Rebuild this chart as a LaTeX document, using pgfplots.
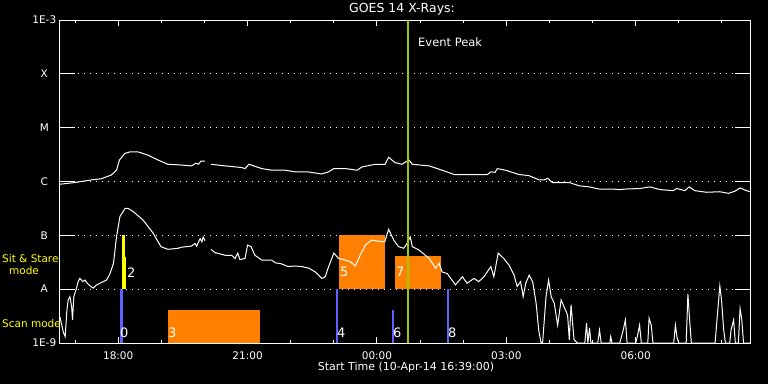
\documentclass[border=0pt]{standalone}
\usepackage{fontspec}
\setmainfont{DejaVu Sans}
\usepackage{pgfplots}
\pgfplotsset{compat=1.18}
\definecolor{scanblue}{RGB}{96,96,255}
\definecolor{ssorange}{RGB}{255,128,0}
\definecolor{ssyellow}{RGB}{255,255,0}
\definecolor{peakgreen}{RGB}{160,200,0}
\begin{document}
\begin{tikzpicture}[font=\fontsize{10.5}{12}\selectfont]
\fill[black] (-60pt,-41pt) rectangle (708pt,343pt);
\begin{axis}[
  at={(0pt,0pt)}, anchor=south west,
  scale only axis, width=690pt, height=323pt,
  xmin=16.65, xmax=32.65, ymin=-9, ymax=-3,
  clip=false,
  unbounded coords=jump,
  axis line style={white, line width=1pt},
  every tick/.style={white, line width=1pt},
  xtick={18,21,24,27,30},
  xticklabels={\mbox{18:00},\mbox{21:00},\mbox{00:00},\mbox{03:00},\mbox{06:00}},
  minor xtick={17,19,20,22,23,25,26,28,29,31,32},
  ytick={-9,-8,-7,-6,-5,-4,-3},
  yticklabels={\mbox{1E-9},\mbox{A},\mbox{B},\mbox{C},\mbox{M},\mbox{X},\mbox{1E-3}},
  xtick style={/pgfplots/major tick length=6pt, /pgfplots/minor tick length=3pt},
  ytick style={/pgfplots/major tick length=15pt},
  xticklabel style={white, yshift=-5pt},
  yticklabel style={white, text width=25pt, align=center, inner sep=0pt, xshift=-3pt},
  ymajorgrids,
  major grid style={white, line width=1pt, dash pattern=on 1pt off 5pt},
]
% Sit & Stare / raster boxes
\addplot[fill=ssorange, draw=none] coordinates {(19.15,-9) (21.29,-9) (21.29,-8.39) (19.15,-8.39)} -- cycle;
\addplot[fill=ssorange, draw=none] coordinates {(23.12,-8) (24.19,-8) (24.19,-7) (23.12,-7)} -- cycle;
\addplot[fill=ssorange, draw=none] coordinates {(24.42,-8) (25.48,-8) (25.48,-7.38) (24.42,-7.38)} -- cycle;
% scan mode bars
\addplot[scanblue, line width=2.7pt] coordinates {(18.07,-9) (18.07,-8)};
\addplot[scanblue, line width=2.7pt] coordinates {(23.07,-9) (23.07,-8)};
\addplot[scanblue, line width=2.7pt] coordinates {(24.37,-9) (24.37,-8.39)};
\addplot[scanblue, line width=2.7pt] coordinates {(25.65,-9) (25.65,-8)};
% sit and stare bars
\addplot[ssyellow, line width=2.7pt] coordinates {(18.12,-8) (18.12,-7)};
\addplot[ssyellow, line width=1.5pt] coordinates {(18.17,-8) (18.17,-7.40)};
% long channel
\addplot[white, line width=1pt] coordinates {
(16.65,-6.05) (16.99,-6.02) (17.38,-5.97) (17.60,-5.95) (17.84,-5.88) (17.96,-5.79) (18.03,-5.60) (18.15,-5.48) (18.27,-5.45) (18.46,-5.45) (18.69,-5.51) (18.92,-5.60) (19.15,-5.68) (19.39,-5.69) (19.70,-5.71) (19.80,-5.66) (19.86,-5.68) (19.92,-5.62) (20.01,-5.62) (20.08,nan) (20.15,-5.68) (20.48,-5.71) (20.86,-5.74) (20.94,-5.76) (21.03,-5.68) (21.33,-5.76) (21.56,-5.79) (21.87,-5.79) (22.10,-5.82) (22.38,-5.82) (22.72,-5.86) (22.88,-5.82) (23.00,-5.76) (23.27,-5.76) (23.54,-5.79) (23.65,-5.73) (23.96,-5.68) (24.19,-5.68) (24.27,-5.55) (24.42,-5.65) (24.58,-5.68) (24.74,-5.60) (24.82,-5.68) (25.21,-5.71) (25.51,-5.79) (25.79,-5.87) (26.13,-5.87) (26.56,-5.87) (26.64,-5.82) (26.74,-5.83) (26.79,-5.76) (26.98,-5.79) (27.29,-5.87) (27.52,-5.89) (27.76,-5.97) (27.88,-5.97) (27.96,-5.94) (28.07,-6.02) (28.46,-6.02) (28.69,-6.08) (28.92,-6.10) (29.15,-6.14) (29.47,-6.14) (29.62,-6.15) (29.77,-6.14) (30.10,-6.13) (30.33,-6.10) (30.56,-6.15) (30.87,-6.17) (30.95,-6.13) (31.14,-6.17) (31.24,-6.10) (31.37,-6.17) (31.64,-6.20) (31.95,-6.19) (32.15,-6.22) (32.30,-6.18) (32.42,-6.12) (32.57,-6.17) (32.65,-6.19)
};
% short channel
\addplot[white, line width=1pt] coordinates {
(16.65,-8.52) (16.73,-8.81) (16.77,-8.88) (16.81,-8.39) (16.84,-8.20) (16.88,-8.14) (16.92,-8.33) (16.94,-8.57) (16.97,-8.14) (17.02,-8.02) (17.07,-7.86) (17.11,-7.80) (17.18,-7.86) (17.23,-7.83) (17.28,-7.89) (17.35,-7.94) (17.42,-7.98) (17.50,-7.92) (17.58,-7.89) (17.65,-7.86) (17.73,-7.83) (17.81,-7.71) (17.89,-7.52) (17.96,-7.03) (18.04,-6.65) (18.16,-6.50) (18.23,-6.50) (18.35,-6.56) (18.58,-6.72) (18.81,-6.96) (18.99,-7.21) (19.15,-7.26) (19.39,-7.24) (19.47,-7.22) (19.70,-7.20) (19.78,-7.15) (19.82,-7.20) (19.90,-7.06) (19.94,-7.12) (19.97,-7.03) (20.01,-7.10) (20.08,nan) (20.15,-7.26) (20.24,-7.32) (20.48,-7.37) (20.63,-7.37) (20.71,-7.43) (20.77,-7.33) (20.82,-7.45) (20.94,-7.43) (21.00,-7.18) (21.08,-7.21) (21.17,-7.37) (21.33,-7.46) (21.56,-7.46) (21.64,-7.51) (21.79,-7.53) (21.94,-7.58) (22.10,-7.57) (22.26,-7.58) (22.42,-7.61) (22.57,-7.68) (22.72,-7.80) (22.80,-7.77) (22.88,-7.58) (23.00,-7.33) (23.11,-7.43) (23.27,-7.46) (23.38,-7.49) (23.50,-7.57) (23.61,-7.37) (23.73,-7.18) (23.88,-7.09) (24.04,-7.11) (24.18,-7.12) (24.27,-6.89) (24.39,-7.09) (24.50,-7.21) (24.62,-7.24) (24.70,-7.15) (24.77,-7.03) (24.82,-7.21) (24.97,-7.27) (25.21,-7.43) (25.36,-7.61) (25.44,-7.52) (25.51,-7.68) (25.63,-7.71) (25.71,-7.80) (25.82,-7.92) (25.98,-7.77) (26.09,-7.89) (26.25,-7.80) (26.36,-7.86) (26.48,-7.77) (26.64,-7.58) (26.71,-7.77) (26.81,-7.33) (26.94,-7.43) (27.06,-7.55) (27.18,-7.74) (27.25,-7.95) (27.33,-7.86) (27.39,-8.14) (27.45,-7.89) (27.53,-7.74) (27.61,-7.86) (27.69,-8.26) (27.75,-8.76) (27.80,-8.98) (27.84,-9.00) (27.88,-8.57) (27.92,-8.14) (27.98,-7.83) (28.04,-8.14) (28.11,-8.26) (28.19,-8.67) (28.27,-8.20) (28.34,-8.33) (28.42,-8.48) (28.46,-8.94) (28.50,-8.29) (28.57,-8.94) (28.65,-9.00) (28.82,-9.00) (28.86,-8.63) (28.89,-9.00) (28.93,-8.72) (28.96,-9.00) (29.12,-9.00) (29.16,-8.76) (29.20,-9.00) (29.40,-9.00) (29.42,-8.88) (29.45,-9.00) (29.63,-9.00) (29.71,-8.76) (29.76,-8.57) (29.80,-9.00) (30.00,-9.00) (30.04,-8.87) (30.09,-8.67) (30.13,-9.00) (30.28,-9.00) (30.31,-8.54) (30.36,-8.67) (30.40,-9.00) (30.88,-9.00) (30.92,-8.67) (30.96,-8.91) (31.00,-9.00) (31.17,-9.00) (31.21,-8.09) (31.25,-8.57) (31.29,-9.00) (31.84,-9.00) (31.88,-8.61) (31.95,-7.94) (31.99,-8.20) (32.04,-8.76) (32.08,-9.00) (32.18,-9.00) (32.21,-8.76) (32.27,-8.57) (32.31,-9.00) (32.38,-9.00) (32.42,-8.36) (32.46,-8.57) (32.50,-9.00) (32.65,-9.00)
};
% event peak
\addplot[peakgreen, line width=2pt] coordinates {(24.73,-9) (24.73,-3)};
\end{axis}
% texts
\node[white, font=\fontsize{12.5}{14}\selectfont] at (342pt,334pt) {GOES 14 X-Rays:};
\node[white, font=\fontsize{11}{13}\selectfont] at (346pt,-24pt) {Start Time (10-Apr-14 16:39:00)};
\node[white, anchor=west, inner sep=0pt, font=\fontsize{11.5}{13}\selectfont] at (358pt,300.5pt) {Event Peak};
\begin{scope}[every node/.style={ssyellow, inner sep=0pt, font=\fontsize{10.5}{12}\selectfont}]
\node[anchor=west] at (-58pt,84pt) {Sit \& Stare};
\node at (-36pt,72pt) {mode};
\node[anchor=west] at (-58pt,19pt) {Scan mode};
\end{scope}
\begin{scope}[every node/.style={white, anchor=west, inner sep=0pt, font=\fontsize{13}{15}\selectfont}]
\node at (60pt,10pt) {0};
\node at (67pt,70.5pt) {2};
\node at (108pt,10pt) {3};
\node at (277pt,10pt) {4};
\node at (280pt,71.3pt) {5};
\node at (333pt,10pt) {6};
\node at (336pt,71.3pt) {7};
\node at (388pt,10pt) {8};
\end{scope}
\pgfresetboundingbox
\useasboundingbox (-60pt,-41pt) rectangle (708pt,343pt);
\end{tikzpicture}
\end{document}
